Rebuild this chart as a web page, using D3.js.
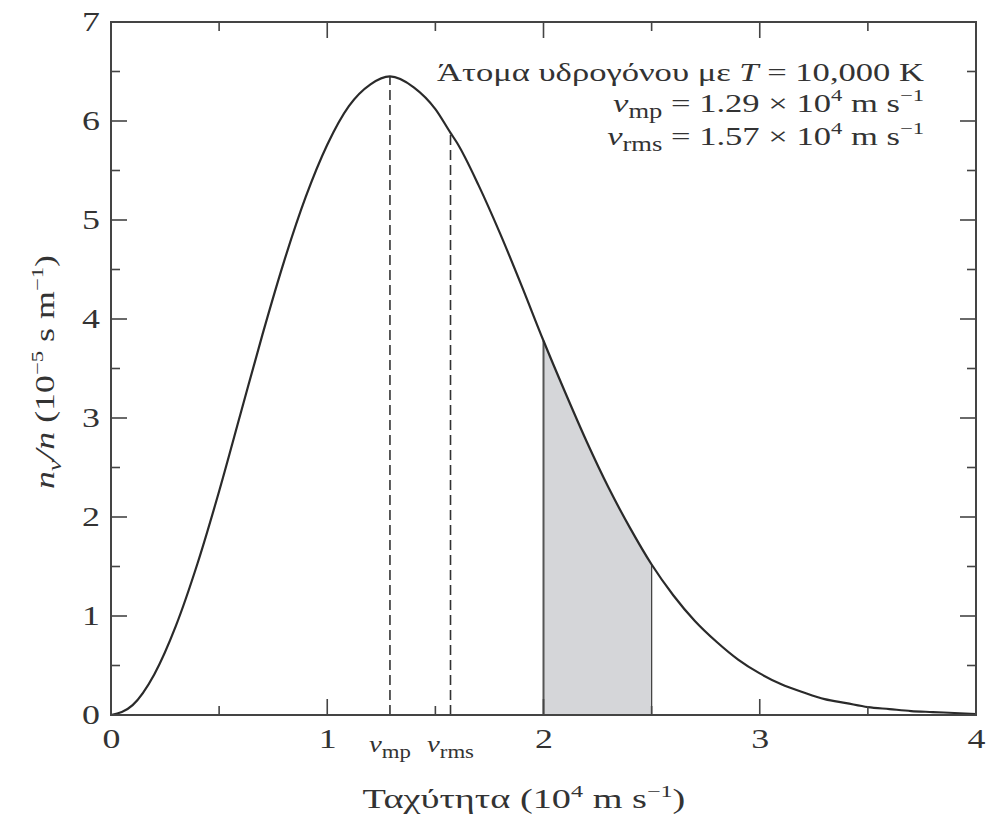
<!DOCTYPE html>
<html>
<head>
<meta charset="utf-8">
<script src="https://cdn.jsdelivr.net/npm/d3@7"></script>
<style>
  body { margin: 0; background: #fff; }
  text { font-family: "Liberation Serif", "DejaVu Serif", serif; fill: #333; }
</style>
</head>
<body>
<svg id="chart"></svg>
<script>
// speed in 10^4 m/s, value n_v/n in 10^-5 s/m
var speed = [0, 0.1, 0.2, 0.3, 0.4, 0.5, 0.6, 0.7, 0.8, 0.9, 1.0, 1.1, 1.2, 1.29, 1.4, 1.5, 1.57, 1.6, 1.7, 1.8, 1.9,
             2.0, 2.1, 2.2, 2.3, 2.4, 2.5, 2.6, 2.7, 2.8, 2.9, 3.0, 3.1, 3.2, 3.3, 3.4, 3.5, 3.6, 3.7, 3.8, 3.9, 4.0];
var density = [0, 0.10, 0.41, 0.90, 1.53, 2.26, 3.05, 3.84, 4.58, 5.23, 5.76, 6.15, 6.37, 6.45, 6.34, 6.12, 5.88, 5.78, 5.35, 4.86, 4.33,
               3.78, 3.26, 2.76, 2.30, 1.89, 1.52, 1.21, 0.95, 0.74, 0.56, 0.42, 0.31, 0.23, 0.16, 0.12, 0.08, 0.06, 0.04, 0.03, 0.02, 0.01];

var xTicks = [0, 1, 2, 3, 4];
var xMinor = [0.5, 1.5, 2.5, 3.5];
var yTicks = [0, 1, 2, 3, 4, 5, 6, 7];
var yMinor = [0.5, 1.5, 2.5, 3.5, 4.5, 5.5, 6.5];

var vmp = 1.29, vrms = 1.57;
var shadeFrom = 2.0, shadeTo = 2.5;

var margin = { top: 22, right: 21, bottom: 108, left: 111 },
    width = 997 - margin.left - margin.right,
    height = 823 - margin.top - margin.bottom;

// the book's serif is wider than Times, stretch text sideways
var wide = 1.33;

var dataset = speed.map(function (s, i) { return { v: s, y: density[i] }; });

var x = d3.scaleLinear().domain([0, 4]).range([0, width]);
var y = d3.scaleLinear().domain([0, 7]).range([height, 0]);

var root = d3.select("#chart")
    .attr("width", 997)
    .attr("height", 823);

var svg = root.append("g")
    .attr("transform", "translate(" + margin.left + "," + margin.top + ")");

var line = d3.line()
    .x(d => x(d.v))
    .y(d => y(d.y))
    .curve(d3.curveMonotoneX);

// shaded band between 2 and 2.5
var shade = dataset.filter(d => d.v >= shadeFrom && d.v <= shadeTo);
var area = d3.area()
    .x(d => x(d.v))
    .y0(y(0))
    .y1(d => y(d.y))
    .curve(d3.curveMonotoneX);

svg.append("path")
    .datum(shade)
    .attr("fill", "#d5d6d9")
    .attr("d", area);

svg.append("line")
    .attr("x1", x(shadeFrom)).attr("x2", x(shadeFrom))
    .attr("y1", y(0)).attr("y2", y(shade[0].y))
    .attr("stroke", "#555").attr("stroke-width", 2);

svg.append("line")
    .attr("x1", x(shadeTo)).attr("x2", x(shadeTo))
    .attr("y1", y(0)).attr("y2", y(shade[shade.length - 1].y))
    .attr("stroke", "#444").attr("stroke-width", 1.3);

// dashed markers
[vmp, vrms].forEach(function (v) {
    var d = dataset.find(p => p.v === v);
    svg.append("line")
        .attr("x1", x(v)).attr("x2", x(v))
        .attr("y1", y(0)).attr("y2", y(d.y))
        .attr("stroke", "#333")
        .attr("stroke-width", 1.6)
        .attr("stroke-dasharray", "10,5");
});

svg.append("path")
    .datum(dataset)
    .style("fill", "none")
    .style("stroke", "#2a2a2a")
    .style("stroke-width", 2.2)
    .attr("d", line);

// ticks on all four sides, pointing inward
var tickColor = "#444";
function drawTicks(vals, len) {
    vals.forEach(function (v) {
        svg.append("line").attr("x1", x(v)).attr("x2", x(v)).attr("y1", height).attr("y2", height - len)
            .attr("stroke", tickColor).attr("stroke-width", 1.6);
        svg.append("line").attr("x1", x(v)).attr("x2", x(v)).attr("y1", 0).attr("y2", len)
            .attr("stroke", tickColor).attr("stroke-width", 1.6);
    });
}
function drawYTicks(vals, len) {
    vals.forEach(function (v) {
        svg.append("line").attr("x1", 0).attr("x2", len).attr("y1", y(v)).attr("y2", y(v))
            .attr("stroke", tickColor).attr("stroke-width", 1.6);
        svg.append("line").attr("x1", width).attr("x2", width - len).attr("y1", y(v)).attr("y2", y(v))
            .attr("stroke", tickColor).attr("stroke-width", 1.6);
    });
}
drawTicks(xTicks.slice(1, -1), 16);
drawTicks(xMinor, 9);
drawYTicks(yTicks.slice(1, -1), 16);
drawYTicks(yMinor, 9);

// frame
svg.append("rect")
    .attr("width", width).attr("height", height)
    .attr("fill", "none").attr("stroke", "#444").attr("stroke-width", 2);

// tick labels via axes
svg.append("g")
    .attr("transform", "translate(0," + height + ")")
    .call(d3.axisBottom(x).tickValues(xTicks).tickSize(0).tickPadding(14).tickFormat(d3.format("d")))
    .call(g => g.select(".domain").remove())
    .call(g => g.selectAll("text").style("font-size", "27px").attr("fill", "#333")
        .style("font-family", "Liberation Serif").attr("transform", "scale(" + wide + ",1)"));

svg.append("g")
    .call(d3.axisLeft(y).tickValues(yTicks).tickSize(0).tickPadding(14).tickFormat(d3.format("d")))
    .call(g => g.select(".domain").remove())
    .call(g => g.selectAll("text").style("font-size", "27px").attr("fill", "#333")
        .style("font-family", "Liberation Serif")
        .attr("x", -11 / wide)
        .attr("transform", "scale(" + wide + ",1)"));

// v_mp / v_rms under the axis
[["mp", vmp], ["rms", vrms]].forEach(function (p) {
    var t = svg.append("g")
        .attr("transform", "translate(" + x(p[1]) + "," + (height + 37) + ") scale(1.2,1)")
        .append("text")
        .attr("text-anchor", "middle")
        .style("font-size", "24px");
    t.append("tspan").style("font-style", "italic").text("v");
    t.append("tspan").attr("dy", 6).style("font-size", "19px").text(p[0]);
});

// x axis title
var xt = root.append("g")
    .attr("transform", "translate(524,808) scale(1.42,1)")
    .append("text")
    .attr("text-anchor", "middle")
    .style("font-size", "27px");
xt.append("tspan").text("Ταχύτητα (10");
xt.append("tspan").attr("dy", -11).style("font-size", "17px").text("4");
xt.append("tspan").attr("dy", 11).text(" m s");
xt.append("tspan").attr("dy", -11).style("font-size", "17px").text("−1");
xt.append("tspan").attr("dy", 11).text(")");

// y axis title
var yt = root.append("g")
    .attr("transform", "translate(54,372) rotate(-90) scale(" + wide + ",1)")
    .append("text")
    .attr("text-anchor", "middle")
    .style("font-size", "27px");
yt.append("tspan").style("font-style", "italic").text("n");
yt.append("tspan").attr("dy", 7).style("font-style", "italic").style("font-size", "19px").text("v");
yt.append("tspan").attr("dy", -7).style("font-style", "italic").text("/n");
yt.append("tspan").text(" (10");
yt.append("tspan").attr("dy", -11).style("font-size", "17px").text("−5");
yt.append("tspan").attr("dy", 11).text(" s m");
yt.append("tspan").attr("dy", -11).style("font-size", "17px").text("−1");
yt.append("tspan").attr("dy", 11).text(")");

// annotation block
var ax = 924;
function note(yy) {
    return root.append("g")
        .attr("transform", "translate(" + ax + "," + yy + ") scale(" + wide + ",1)")
        .append("text")
        .attr("text-anchor", "end")
        .style("font-size", "26px");
}
var a1 = note(81);
a1.append("tspan").text("Άτομα υδρογόνου με ");
a1.append("tspan").style("font-style", "italic").text("T");
a1.append("tspan").text(" = 10,000 K");

function vLine(sub, val, yy) {
    var t = note(yy);
    t.append("tspan").style("font-style", "italic").text("v");
    t.append("tspan").attr("dy", 6).style("font-size", "20px").text(sub);
    t.append("tspan").attr("dy", -6).text(" = " + val + " × 10");
    t.append("tspan").attr("dy", -11).style("font-size", "17px").text("4");
    t.append("tspan").attr("dy", 11).text(" m s");
    t.append("tspan").attr("dy", -11).style("font-size", "17px").text("−1");
}
vLine("mp", "1.29", 112);
vLine("rms", "1.57", 145);
</script>
</body>
</html>
